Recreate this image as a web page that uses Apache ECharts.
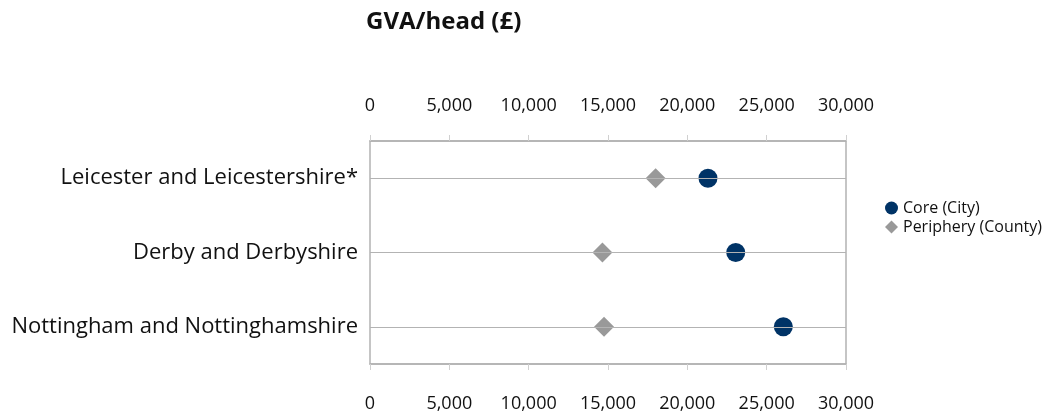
<!DOCTYPE html>
<html>
<head>
<meta charset="utf-8">
<script src="https://cdn.jsdelivr.net/npm/echarts@6/dist/echarts.min.js"></script>
<style>
  html, body { margin: 0; padding: 0; background: #fff; }
  #chart { width: 1046px; height: 413px; }
</style>
</head>
<body>
<div id="chart"></div>
<script>
// 類別與數據
const categories = ['Leicester and Leicestershire*', 'Derby and Derbyshire', 'Nottingham and Nottinghamshire'];
const coreValues = [21300, 23050, 26050];
const peripheryValues = [18000, 14650, 14750];
const seriesNames = ['Core (City)', 'Periphery (County)'];

const chart = echarts.init(document.getElementById('chart'), null, { renderer: 'canvas' });

const fontFamily = '"Open Sans", Lato, sans-serif';
const greyLine = '#b3b3b3';

// x 軸共用設定（上、下各一條）
function valueAxis(position, margin) {
  return {
    type: 'value',
    position: position,
    min: 0,
    max: 30000,
    interval: 5000,
    axisLine: { show: true, lineStyle: { color: greyLine, width: 1.5 } },
    axisTick: { show: true, length: 6, lineStyle: { color: '#d0d0d0' } },
    splitLine: { show: false },
    axisLabel: {
      margin: margin,
      fontSize: 18,
      color: '#111',
      fontFamily: fontFamily,
      formatter: (v) => v.toLocaleString('en-US'),
    },
  };
}

const option = {
  animation: false,
  title: {
    text: 'GVA/head (£)',
    left: 361,
    top: 5,
    textStyle: { fontSize: 24, fontWeight: 'bold', color: '#111', fontFamily: fontFamily },
  },
  legend: {
    data: seriesNames,
    orient: 'vertical',
    left: 880,
    top: 195,
    itemWidth: 13,
    itemHeight: 13,
    itemGap: 3,
    textStyle: { fontSize: 16, color: '#111', fontFamily: fontFamily },
  },
  grid: {
    left: 370,
    right: 200,
    top: 141,
    bottom: 46,
    show: true,
    borderColor: greyLine,
    borderWidth: 1.5,
  },
  xAxis: [valueAxis('top', 26), valueAxis('bottom', 31)],
  yAxis: {
    type: 'category',
    data: categories,
    inverse: true,
    axisLine: { show: false },
    axisTick: { show: false },
    splitLine: { show: false },
    axisLabel: { margin: 12, fontSize: 22, color: '#111', fontFamily: fontFamily },
  },
  series: [
    {
      // 類別中心的水平線
      name: 'lines',
      type: 'scatter',
      data: [],
      z: 1,
      silent: true,
      markLine: {
        silent: true,
        symbol: 'none',
        label: { show: false },
        lineStyle: { color: greyLine, type: 'solid', width: 1.2 },
        data: categories.map((c) => ({ yAxis: c })),
      },
    },
    {
      name: seriesNames[0],
      type: 'scatter',
      z: 3,
      symbol: 'circle',
      symbolSize: 19,
      itemStyle: { color: '#003366', opacity: 1 },
      data: coreValues.map((v, i) => [v, categories[i]]),
    },
    {
      name: seriesNames[1],
      type: 'scatter',
      z: 3,
      symbol: 'diamond',
      symbolSize: 20,
      itemStyle: { color: '#999999', opacity: 1 },
      data: peripheryValues.map((v, i) => [v, categories[i]]),
    },
  ],
};

chart.setOption(option);
</script>
</body>
</html>
